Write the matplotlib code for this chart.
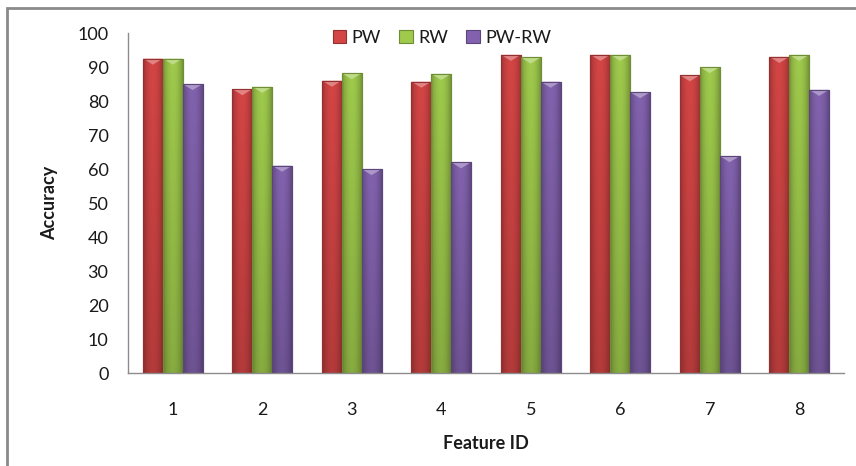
import numpy as np
import matplotlib
matplotlib.use("Agg")
import matplotlib.pyplot as plt
from matplotlib.patches import Rectangle, Polygon
from matplotlib.colors import to_rgb

# data
features = ["1", "2", "3", "4", "5", "6", "7", "8"]
pw = [92.5, 83.5, 86, 85.7, 93.6, 93.6, 87.6, 93]
rw = [92.5, 84.2, 88.2, 88, 92.8, 93.6, 90, 93.6]
pw_rw = [85, 61, 60, 62, 85.7, 82.6, 63.8, 83.3]

series = [("PW", pw, "#D44545"), ("RW", rw, "#9FCA4C"), ("PW-RW", pw_rw, "#8262AE")]

plt.rcParams["font.family"] = ["Lato", "DejaVu Sans"]
text_col = "#1a1a1a"

fig = plt.figure(figsize=(8.56, 4.66), dpi=100)
ax = fig.add_axes([128 / 856, 1 - 373 / 466, (844 - 128) / 856, 340 / 466])

x = np.arange(len(features))
w = 0.222


def shade(color):
    # cylinder-like shading: darker at the sides, a bit darker to the bottom
    c = np.array(to_rgb(color))
    h = np.linspace(-1, 1, 40)
    hx = 1.0 - 0.25 * np.abs(h) ** 2
    v = np.linspace(1.0, 0.85, 60)[:, None]
    img = c[None, None, :] * hx[None, :, None] * v[:, :, None]
    return np.clip(img, 0, 1)


for i, (name, vals, col) in enumerate(series):
    dark = tuple(np.array(to_rgb(col)) * 0.7)
    bars = ax.bar(x + (i - 1) * w, vals, w, color=col, label=name,
                  edgecolor=dark, linewidth=0.8, zorder=2)
    img = shade(col)
    for b in bars:
        bx, by = b.get_x(), b.get_y()
        bw, bh = b.get_width(), b.get_height()
        im = ax.imshow(img, extent=[bx, bx + bw, by, by + bh], aspect="auto",
                       zorder=2.5, interpolation="bilinear", origin="upper")
        im.set_clip_path(b)
        # light bevel on top of each bar
        light = np.clip(np.array(to_rgb(col)) * 0.6 + 0.4, 0, 1)
        tri = Polygon([[bx, by + bh], [bx + bw, by + bh], [bx + bw / 2, by + bh - 1.8]],
                      closed=True, facecolor=light, edgecolor="none", alpha=0.85, zorder=3)
        ax.add_patch(tri)
        ax.add_patch(Rectangle((bx, by), bw, bh, fill=False, edgecolor=dark,
                               linewidth=0.8, zorder=3.2))

ax.set_xlim(-0.5, len(features) - 0.5)
ax.set_ylim(0, 100)
ax.set_yticks(range(0, 101, 10))
ax.set_xticks(x)
ax.set_xticklabels(features)
ax.tick_params(axis="both", length=0, labelsize=13, colors=text_col)
ax.tick_params(axis="y", pad=14)
ax.tick_params(axis="x", pad=21)

for s in ["top", "right"]:
    ax.spines[s].set_visible(False)
for s in ["left", "bottom"]:
    ax.spines[s].set_color("#8c8c8c")
    ax.spines[s].set_linewidth(1.0)

ax.set_ylabel("Accuracy", fontsize=13, fontweight="bold", color=text_col, labelpad=14)
ax.set_xlabel("Feature ID", fontsize=13, fontweight="bold", color=text_col, labelpad=12)

leg = fig.legend(loc="center", bbox_to_anchor=(442 / 856, 1 - 38 / 466), ncol=3,
                 frameon=False, fontsize=13, handlelength=0.75, handleheight=0.75,
                 handletextpad=0.3, columnspacing=1.0)
for t in leg.get_texts():
    t.set_color(text_col)

# outer chart border (image is cropped on the right and bottom)
fig.add_artist(Rectangle((7 / 856, -0.2), 1.2, 1.2 - 8 / 466, transform=fig.transFigure,
                         fill=False, edgecolor="#8a8a8a", linewidth=2.0))

fig.savefig("out.png", dpi=100)
